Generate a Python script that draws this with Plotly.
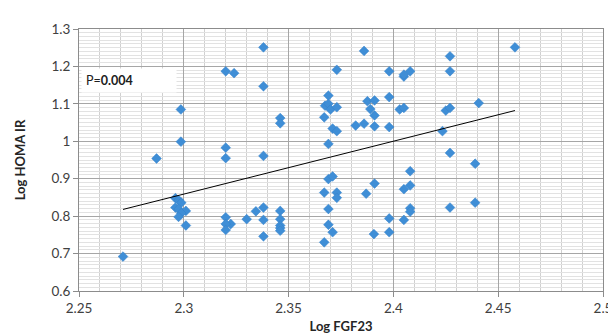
import plotly.graph_objects as go

# Data (Log FGF23 vs Log HOMA IR)
log_fgf23 = [
    2.271, 2.287, 2.2986, 2.2986, 2.296, 2.2975, 2.2988, 2.296, 2.2975, 2.301,
    2.2988, 2.2975, 2.301, 2.320, 2.324, 2.320, 2.320, 2.320, 2.3224, 2.320,
    2.320, 2.330, 2.3344, 2.338, 2.338, 2.338, 2.338, 2.338, 2.338, 2.346,
    2.346, 2.346, 2.346, 2.346, 2.346, 2.346, 2.367, 2.367, 2.367, 2.369,
    2.3674, 2.369, 2.370, 2.373, 2.371, 2.373, 2.369, 2.369, 2.371, 2.373,
    2.373, 2.369, 2.369, 2.371, 2.373, 2.386, 2.3876, 2.391, 2.389, 2.391,
    2.382, 2.386, 2.391, 2.387, 2.391, 2.3907, 2.398, 2.398, 2.398, 2.398,
    2.398, 2.405, 2.405, 2.408, 2.403, 2.405, 2.408, 2.405, 2.408, 2.408,
    2.408, 2.405, 2.427, 2.427, 2.425, 2.427, 2.4234, 2.427, 2.427, 2.439,
    2.439, 2.4407, 2.458,
]
log_homa_ir = [
    0.692, 0.954, 1.085, 0.999, 0.848, 0.843, 0.836, 0.823, 0.819, 0.814,
    0.808, 0.798, 0.775, 1.187, 1.182, 0.983, 0.955, 0.797, 0.779, 0.779,
    0.763, 0.792, 0.813, 0.823, 0.790, 0.746, 1.251, 1.147, 0.961, 1.062,
    1.048, 0.814, 0.792, 0.775, 0.768, 0.761, 0.730, 0.863, 1.064, 1.122,
    1.095, 1.100, 1.085, 1.091, 1.034, 1.027, 0.993, 0.899, 0.906, 0.863,
    0.849, 0.819, 0.777, 0.757, 1.191, 1.2415, 1.107, 1.109, 1.086, 1.069,
    1.042, 1.047, 1.040, 0.860, 0.887, 0.752, 1.187, 1.118, 1.038, 0.794,
    0.757, 1.173, 1.178, 1.187, 1.085, 1.089, 0.920, 0.872, 0.882, 0.821,
    0.812, 0.790, 1.227, 1.187, 1.082, 1.089, 1.027, 0.969, 0.823, 0.940,
    0.836, 1.102, 1.251,
]

# Linear trend line (as drawn in the reference)
trend_slope = 1.413
trend_intercept = -2.391

p_label = "P="
p_value = "0.004"

x_tick_vals = [2.25, 2.3, 2.35, 2.4, 2.45, 2.5]
x_tick_text = ["2.25", "2.3", "2.35", "2.4", "2.45", "2.5"]
y_tick_vals = [0.6, 0.7, 0.8, 0.9, 1.0, 1.1, 1.2, 1.3]
y_tick_text = ["0.6", "0.7", "0.8", "0.9", "1", "1.1", "1.2", "1.3"]

font_family = "Lato, 'Open Sans', sans-serif"
tick_color = "#404040"

x_min, x_max = min(log_fgf23), max(log_fgf23)
trend_x = [x_min, x_max]
trend_y = [trend_slope * v + trend_intercept for v in trend_x]

fig = go.Figure()
fig.add_trace(go.Scatter(
    x=log_fgf23, y=log_homa_ir, mode="markers",
    marker=dict(symbol="diamond", size=7.5, color="#3F8ED6",
                line=dict(width=0.5, color="#3380CA")),
    showlegend=False, hoverinfo="x+y",
))
fig.add_trace(go.Scatter(
    x=trend_x, y=trend_y, mode="lines",
    line=dict(color="#000000", width=1),
    showlegend=False, hoverinfo="skip",
))

fig.add_annotation(
    x=0.004, y=0.805, xref="paper", yref="paper", xanchor="left", yanchor="middle",
    text=f"{p_label}<b>{p_value}</b>", showarrow=False,
    font=dict(family=font_family, size=12.5, color="#202020"),
    bgcolor="#FFFFFF", borderpad=4, width=86, align="left",
)

fig.update_layout(
    width=616, height=335,
    margin=dict(l=68, r=12, t=21, b=51),
    paper_bgcolor="#FFFFFF", plot_bgcolor="#FFFFFF",
    font=dict(family=font_family, color=tick_color),
    xaxis=dict(
        range=[2.25, 2.5], tickvals=x_tick_vals, ticktext=x_tick_text,
        showgrid=True, gridcolor="#A6A6A6", gridwidth=1,
        minor=dict(dtick=0.01, tick0=2.25, showgrid=True, gridcolor="#D0D0D0", gridwidth=1),
        showline=True, linecolor="#8C8C8C", linewidth=1, mirror=True,
        ticks="outside", ticklen=5, tickcolor="#8C8C8C",
        tickfont=dict(size=13.5, color=tick_color),
        title=dict(text="<b>Log FGF23</b>", font=dict(size=13, color="#262626"), standoff=6),
        zeroline=False,
    ),
    yaxis=dict(
        range=[0.6, 1.3], tickvals=y_tick_vals, ticktext=y_tick_text,
        showgrid=True, gridcolor="#A6A6A6", gridwidth=1,
        minor=dict(dtick=0.01, tick0=0.6, showgrid=True, gridcolor="#E2E2E2", gridwidth=1),
        showline=True, linecolor="#8C8C8C", linewidth=1, mirror=True,
        ticks="outside", ticklen=5, tickcolor="#8C8C8C",
        tickfont=dict(size=13.5, color=tick_color),
        title=dict(text="<b>Log HOMA IR</b>", font=dict(size=13, color="#262626"), standoff=22),
        zeroline=False,
    ),
)

fig.write_html("out.html")
